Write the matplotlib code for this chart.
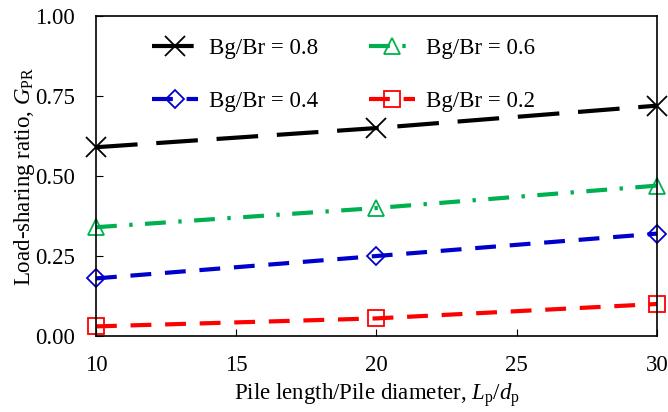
import matplotlib
matplotlib.use("Agg")
import matplotlib.pyplot as plt

plt.rcParams["font.family"] = ["Liberation Serif", "DejaVu Serif"]
plt.rcParams["mathtext.fontset"] = "custom"
plt.rcParams["mathtext.it"] = "Liberation Serif:italic"
plt.rcParams["mathtext.rm"] = "Liberation Serif"

# pile length / pile diameter
lp_dp = [10, 20, 30]

# load-sharing ratio for each Bg/Br
g_08 = [0.59, 0.65, 0.72]
g_06 = [0.34, 0.40, 0.47]
g_04 = [0.18, 0.25, 0.32]
g_02 = [0.03, 0.055, 0.10]

labels = ["Bg/Br = 0.8", "Bg/Br = 0.6", "Bg/Br = 0.4", "Bg/Br = 0.2"]
fs = 16.5

fig = plt.figure(figsize=(6.68, 4.12), dpi=100)
ax = fig.add_axes([0.1437, 0.1845, 0.8398, 0.7765])

l8, = ax.plot(lp_dp, g_08, color="black", lw=3, dashes=(10, 4.5), marker="x",
              ms=14, mew=1.3, mfc="none", label=labels[0], clip_on=False)
l6, = ax.plot(lp_dp, g_06, color="#00b050", lw=3, dashes=(5, 3, 0.8, 3), marker="^",
              ms=12, mew=1.3, mfc="none", label=labels[1], clip_on=False)
l4, = ax.plot(lp_dp, g_04, color="#0000cc", lw=3, dashes=(5, 3.3), marker="D",
              ms=9.5, mew=1.3, mfc="none", label=labels[2], clip_on=False)
l2, = ax.plot(lp_dp, g_02, color="red", lw=3, dashes=(5, 3.3), marker="s",
              ms=12, mew=1.3, mfc="none", label=labels[3], clip_on=False)

ax.set_xlim(10, 30)
ax.set_ylim(0, 1)
ax.set_xticks([10, 15, 20, 25, 30])
ax.set_yticks([0, 0.25, 0.5, 0.75, 1.0])
ax.set_yticklabels(["0.00", "0.25", "0.50", "0.75", "1.00"])
ax.tick_params(direction="in", labelsize=fs, length=5)
ax.tick_params(axis="x", pad=14)
ax.tick_params(axis="y", pad=15)
for s in ax.spines.values():
    s.set_linewidth(1.2)

ax.set_xlabel("Pile length/Pile diameter, $L_{\\mathrm{p}}/d_{\\mathrm{p}}$", fontsize=fs)
ax.set_ylabel("Load-sharing ratio, $G_{\\mathrm{PR}}$", fontsize=fs)
ax.xaxis.set_label_coords(0.5, -0.14)
ax.yaxis.set_label_coords(-0.105, 0.5)

# legend fills row by row: 0.8, 0.6 / 0.4, 0.2
ax.legend([l8, l4, l6, l2], [labels[0], labels[2], labels[1], labels[3]],
          ncol=2, loc="upper left", bbox_to_anchor=(0.1, 0.933), frameon=False,
          fontsize=fs, handlelength=2.0, handletextpad=0.5, columnspacing=2.2,
          labelspacing=1.42, borderpad=0, borderaxespad=0)

fig.savefig("out.png", dpi=100)
